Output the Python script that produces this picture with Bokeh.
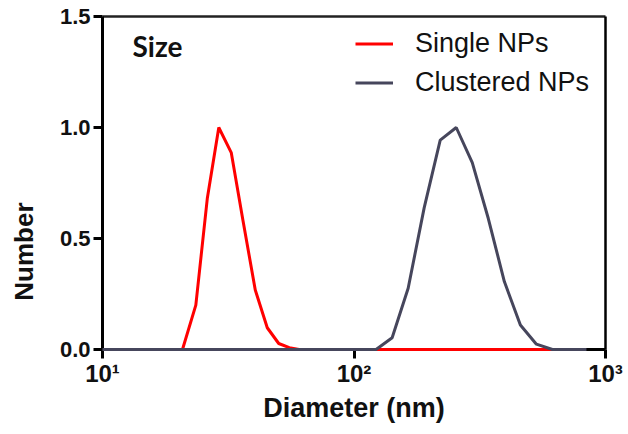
from bokeh.plotting import figure
from bokeh.models import (Range1d, FixedTicker, ColumnDataSource, Legend, LegendItem,
                          Label, LogAxis, LinearAxis, PrintfTickFormatter)
from bokeh.embed import file_html
from bokeh.resources import INLINE

# ---- data ----
single_d = [20.8, 23.5, 26.1, 29.0, 32.5, 36.2, 40.5, 45.2, 50.2, 55.3, 60.5, 650.0]
single_n = [0.0, 0.20, 0.68, 1.00, 0.887, 0.58, 0.268, 0.098, 0.027, 0.008, 0.0, 0.0]

clustered_d = [10.0, 122.4, 141.8, 164.2, 190.1, 220.2, 255.0, 295.3, 342.0, 396.1, 458.7, 531.2, 615.1, 840.0]
clustered_n = [0.0, 0.0, 0.053, 0.276, 0.638, 0.943, 1.0, 0.842, 0.59, 0.306, 0.11, 0.024, 0.0, 0.0]

y_ticks = [0.0, 0.5, 1.0, 1.5]
x_ticks = [10, 100, 1000]
x_tick_labels = {10: "10\u00b9", 100: "10\u00b2", 1000: "10\u00b3"}
series_names = ["Single NPs", "Clustered NPs"]
panel_title = "Size"
x_title = "Diameter (nm)"
y_title = "Number"

FONT = "Liberation Sans"

p = figure(width=628, height=434, x_axis_type="log",
           x_range=Range1d(10, 1000), y_range=Range1d(0, 1.5),
           output_backend="svg", toolbar_location=None,
           min_border_left=102, min_border_right=23, min_border_top=16, min_border_bottom=85)
p.outline_line_color = None
p.grid.visible = False
p.background_fill_color = "white"
p.border_fill_color = "white"

src_s = ColumnDataSource(dict(x=single_d, y=single_n))
src_c = ColumnDataSource(dict(x=clustered_d, y=clustered_n))
r_s = p.line("x", "y", source=src_s, line_color="#ff0000", line_width=3, level="overlay")
r_c = p.line("x", "y", source=src_c, line_color="#46465c", line_width=3, level="overlay")

for ax in (p.xaxis[0], p.yaxis[0]):
    ax.axis_line_width = 3
    ax.axis_line_color = "black"
    ax.major_tick_line_width = 3
    ax.major_tick_line_color = "black"
    ax.major_tick_out = 9
    ax.major_tick_in = 0
    ax.minor_tick_line_color = None
    ax.major_label_text_font = FONT
    ax.major_label_text_font_style = "bold"
    ax.major_label_text_color = "#111111"
    ax.axis_label_text_font = FONT
    ax.axis_label_text_font_style = "bold"
    ax.axis_label_text_color = "#111111"

p.xaxis.ticker = FixedTicker(ticks=x_ticks)
p.xaxis.major_label_overrides = x_tick_labels
p.xaxis.major_label_text_font_size = "24px"
p.xaxis.major_label_standoff = 1
p.xaxis.axis_label = x_title
p.xaxis.axis_label_text_font_size = "27px"
p.xaxis.axis_label_standoff = 3

p.yaxis.ticker = FixedTicker(ticks=y_ticks)
p.yaxis.formatter = PrintfTickFormatter(format="%.1f")
p.yaxis.major_label_text_font_size = "22px"
p.yaxis.major_label_standoff = 3
# the reference title sits below the frame centre: pad the end with no-break spaces
p.yaxis.axis_label = y_title + "\u00a0" * 19
p.yaxis.axis_label_text_font_size = "26px"
p.yaxis.axis_label_standoff = 18

# frame lines on top and right
top_ax = LogAxis(ticker=FixedTicker(ticks=[]), axis_line_width=2.5, axis_line_color="#222222",
                 major_tick_line_color=None, minor_tick_line_color=None,
                 major_label_text_font_size="0px", major_label_standoff=0)
right_ax = LinearAxis(ticker=FixedTicker(ticks=[]), axis_line_width=2.5, axis_line_color="black",
                      major_tick_line_color=None, minor_tick_line_color=None,
                      major_label_text_font_size="0px", major_label_standoff=0)
p.add_layout(top_ax, "above")
p.add_layout(right_ax, "right")

legend = Legend(items=[LegendItem(label=series_names[0], renderers=[r_s]),
                       LegendItem(label=series_names[1], renderers=[r_c])],
                location=(253, 251), orientation="vertical",
                label_text_font=FONT, label_text_font_size="27px", label_text_color="#111111",
                glyph_width=38, glyph_height=31, label_height=31, label_standoff=22,
                spacing=8, padding=0, margin=0,
                border_line_color=None, background_fill_alpha=0)
p.add_layout(legend)

p.add_layout(Label(x=30, y=304, x_units="screen", y_units="screen", text=panel_title,
                   text_font="Lato", text_font_style="bold", text_font_size="28px",
                   text_color="#111111", text_baseline="alphabetic"))

open("out.html", "w").write(file_html(p, INLINE))
